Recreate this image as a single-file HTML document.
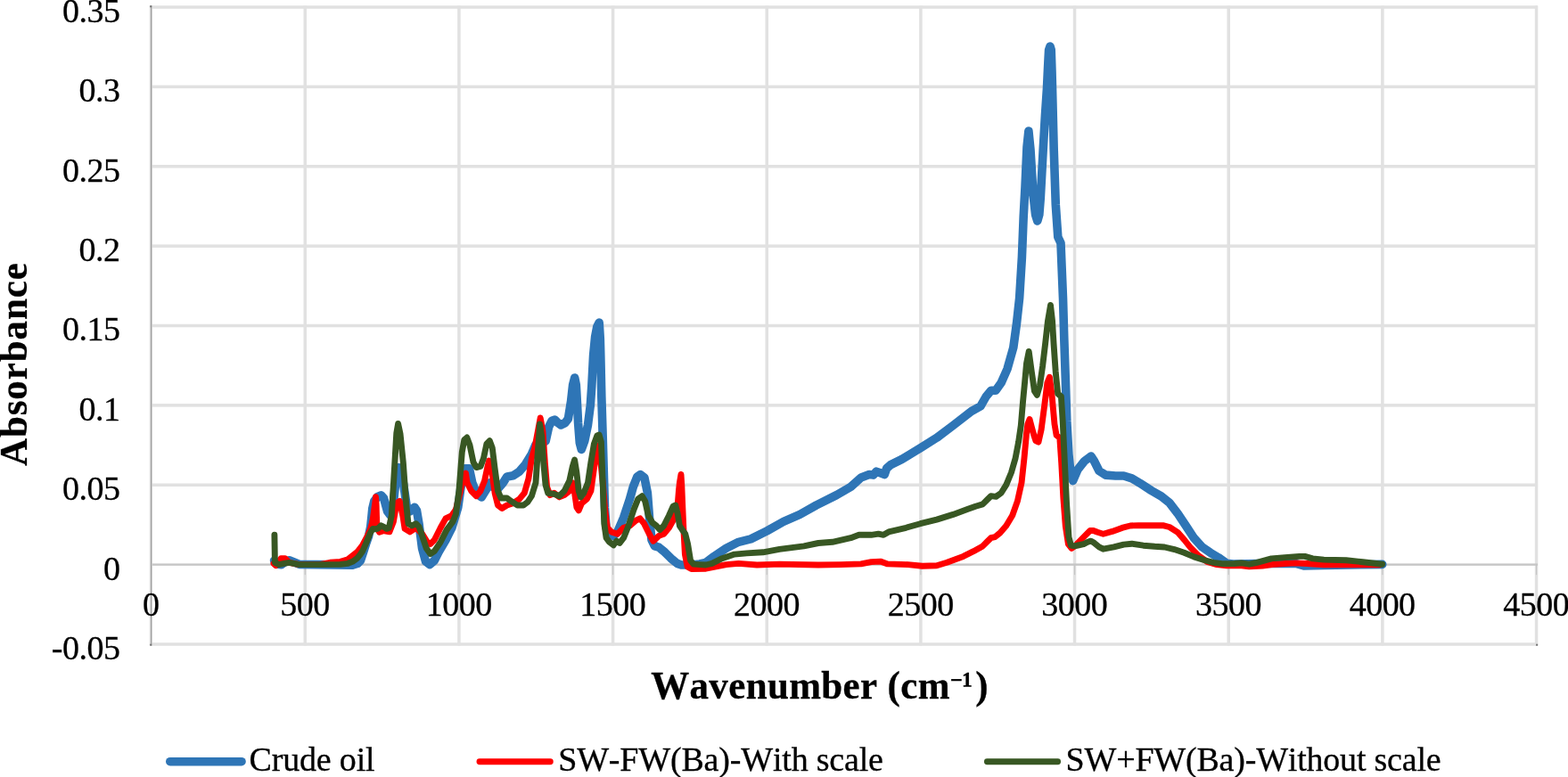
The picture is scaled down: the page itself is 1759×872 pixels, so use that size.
<!DOCTYPE html>
<html lang="en"><head><meta charset="utf-8"><title>FTIR absorbance spectra</title>
<style>
html,body{margin:0;padding:0;background:#fff;}
body{width:1759px;height:872px;overflow:hidden;}
svg{display:block;}
text{font-kerning:none;stroke:#000;stroke-width:0.3px;font-family:"Liberation Serif","Times New Roman",serif;fill:#000;}
.tick{font-size:38px;}
.ttl{font-size:43px;font-weight:bold;}
.leg{font-size:38px;}
.c{fill:none;stroke-linejoin:round;stroke-linecap:round;}
</style></head><body>
<svg width="1759" height="872" viewBox="0 0 1759 872">
<rect width="1759" height="872" fill="#fff"/>

<g fill="#e1e1e1">
<rect x="169.60" y="721.24" width="1555.44" height="3.5"/>
<rect x="169.60" y="542.50" width="1555.44" height="3.5"/>
<rect x="169.60" y="453.13" width="1555.44" height="3.5"/>
<rect x="169.60" y="363.76" width="1555.44" height="3.5"/>
<rect x="169.60" y="274.39" width="1555.44" height="3.5"/>
<rect x="169.60" y="185.02" width="1555.44" height="3.5"/>
<rect x="169.60" y="95.65" width="1555.44" height="3.5"/>
<rect x="169.60" y="6.28" width="1555.44" height="3.5"/>
<rect x="340.51" y="6.53" width="3.5" height="717.96"/>
<rect x="513.17" y="6.53" width="3.5" height="717.96"/>
<rect x="685.83" y="6.53" width="3.5" height="717.96"/>
<rect x="858.49" y="6.53" width="3.5" height="717.96"/>
<rect x="1031.15" y="6.53" width="3.5" height="717.96"/>
<rect x="1203.81" y="6.53" width="3.5" height="717.96"/>
<rect x="1376.47" y="6.53" width="3.5" height="717.96"/>
<rect x="1549.13" y="6.53" width="3.5" height="717.96"/>
<rect x="1721.79" y="6.53" width="3.5" height="717.96"/>
</g>
<rect x="169.60" y="632.42" width="1555.44" height="2.4" fill="#c6c6c6"/>
<rect x="169.00" y="633.62" width="1.2" height="11.5" fill="#c6c6c6"/>
<rect x="341.66" y="633.62" width="1.2" height="11.5" fill="#c6c6c6"/>
<rect x="514.32" y="633.62" width="1.2" height="11.5" fill="#c6c6c6"/>
<rect x="686.98" y="633.62" width="1.2" height="11.5" fill="#c6c6c6"/>
<rect x="859.64" y="633.62" width="1.2" height="11.5" fill="#c6c6c6"/>
<rect x="1032.30" y="633.62" width="1.2" height="11.5" fill="#c6c6c6"/>
<rect x="1204.96" y="633.62" width="1.2" height="11.5" fill="#c6c6c6"/>
<rect x="1377.62" y="633.62" width="1.2" height="11.5" fill="#c6c6c6"/>
<rect x="1550.28" y="633.62" width="1.2" height="11.5" fill="#c6c6c6"/>
<rect x="1722.94" y="633.62" width="1.2" height="11.5" fill="#c6c6c6"/>
<rect x="167.30" y="6.43" width="3.6" height="717.96" fill="#ededed"/>
<rect x="168.80" y="6.43" width="1.6" height="717.96" fill="#a0a0a0"/>
<rect x="168.20" y="6.23" width="2" height="2" fill="#707070"/><rect x="168.20" y="722.69" width="2" height="2" fill="#707070"/><rect x="1723.14" y="722.69" width="2" height="2" fill="#707070"/>
<path class="c" stroke="#2e75b6" stroke-width="9.6" d="M307.6,629.0 L310.0,633.0 L315.7,633.8 L320.0,630.5 L324.4,628.8 L330.0,631.0 L335.9,633.4 L395.5,634.1 L401.0,632.5 L404.5,629.0 L407.5,620.0 L410.5,610.5 L413.5,602.0 L415.7,591.3 L416.8,581.0 L417.8,570.7 L419.8,562.4 L423.4,557.7 L427.5,555.8 L430.5,559.0 L434.6,573.9 L438.0,578.5 L441.4,564.7 L444.9,530.3 L447.2,524.6 L450.6,530.3 L454.1,553.3 L456.4,569.3 L459.8,573.9 L465.0,569.3 L467.5,573.0 L470.0,587.7 L473.5,615.2 L477.5,630.0 L482.0,633.6 L487.3,629.0 L491.9,619.8 L500.0,606.0 L506.9,592.3 L513.8,569.3 L518.4,537.2 L521.8,525.7 L526.4,525.7 L529.8,541.8 L534.4,553.3 L540.2,557.9 L545.9,548.7 L549.3,541.8 L552.8,546.4 L558.5,548.7 L564.3,541.8 L568.8,534.9 L575.7,533.8 L582.6,529.2 L589.5,521.1 L596.4,509.7 L601.0,499.0 L612.1,495.2 L615.6,479.2 L619.0,472.3 L622.5,471.1 L625.9,474.6 L629.3,476.9 L633.9,474.6 L637.4,470.0 L640.6,450.0 L642.6,432.0 L644.7,424.0 L646.3,432.0 L647.3,450.0 L648.6,475.0 L650.3,497.0 L652.3,504.4 L655.7,495.2 L659.5,476.9 L662.3,455.0 L663.8,433.3 L665.6,398.8 L667.6,378.2 L669.8,366.7 L672.2,362.0 L673.3,380.0 L673.8,398.8 L674.8,444.7 L676.2,490.6 L677.3,530.0 L678.5,570.0 L680.0,592.0 L684.0,600.0 L688.2,601.4 L692.7,596.9 L699.6,580.8 L706.5,560.1 L710.3,546.4 L714.9,534.9 L718.4,532.6 L722.9,536.0 L726.4,553.3 L728.7,583.1 L731.0,606.0 L734.4,612.9 L739.0,614.1 L745.9,619.8 L752.8,626.7 L759.7,632.4 L764.3,634.0 L775.0,634.0 L785.0,633.0 L791.8,631.3 L801.0,624.4 L814.7,615.2 L828.5,608.3 L842.3,604.9 L860.6,595.7 L879.0,585.4 L897.3,577.4 L915.7,567.0 L938.4,555.6 L954.4,546.4 L965.9,536.0 L975.1,532.6 L979.7,533.1 L983.1,529.2 L987.7,530.8 L992.3,532.6 L994.6,525.7 L999.2,521.6 L1011.8,515.4 L1032.4,502.8 L1050.8,491.3 L1069.2,477.5 L1089.8,461.5 L1100.0,455.9 L1106.2,445.0 L1111.8,438.2 L1117.0,438.2 L1123.2,429.5 L1130.0,414.1 L1136.8,390.0 L1140.5,363.0 L1143.6,334.8 L1146.4,288.9 L1148.2,243.0 L1150.0,210.0 L1152.0,165.0 L1153.9,147.0 L1156.0,168.0 L1159.0,218.0 L1161.6,241.0 L1163.8,248.0 L1165.8,241.0 L1167.3,222.0 L1170.2,167.7 L1172.4,130.0 L1174.5,98.8 L1175.6,75.0 L1176.6,56.0 L1178.0,52.0 L1179.2,56.0 L1180.0,80.0 L1180.5,98.8 L1182.2,167.7 L1184.3,230.0 L1186.8,265.9 L1190.0,272.8 L1191.1,300.3 L1192.5,334.8 L1193.8,380.7 L1195.3,425.0 L1196.8,472.9 L1198.9,510.0 L1201.3,533.5 L1203.6,539.6 L1209.2,526.7 L1216.5,517.5 L1223.9,512.0 L1227.5,517.5 L1233.0,528.5 L1240.4,533.1 L1251.4,534.0 L1260.6,534.0 L1269.7,536.8 L1278.9,542.3 L1291.7,550.6 L1302.8,557.0 L1311.9,564.3 L1321.1,576.2 L1330.3,590.0 L1339.4,603.8 L1348.6,613.9 L1357.8,620.3 L1367.0,625.8 L1376.1,632.2 L1383.5,633.1 L1400.0,632.8 L1410.0,632.5 L1453.8,632.5 L1462.6,635.0 L1485.1,634.4 L1550.7,633.4"/>
<path class="c" stroke="#ff0000" stroke-width="6.9" d="M307.0,632.4 L309.5,634.7 L315.2,626.7 L319.8,626.7 L324.4,631.3 L335.9,633.6 L358.8,633.6 L370.3,631.3 L381.8,630.4 L390.3,627.8 L400.7,619.5 L406.9,611.5 L412.0,602.0 L415.5,594.0 L417.3,587.0 L418.5,581.0 L420.6,565.5 L421.5,557.8 L422.1,565.5 L422.7,586.2 L423.8,594.0 L425.5,597.2 L430.0,595.7 L436.9,596.9 L441.4,585.4 L444.9,564.7 L448.3,562.4 L451.8,578.5 L454.1,593.4 L459.8,596.9 L466.7,592.3 L473.6,599.2 L479.3,608.3 L482.7,610.6 L487.3,606.0 L494.2,592.3 L500.0,581.9 L506.8,578.5 L511.5,571.6 L516.0,553.3 L519.5,537.2 L522.5,531.0 L524.1,541.8 L528.7,551.0 L534.4,556.7 L539.0,551.0 L543.6,539.5 L547.0,523.4 L548.6,517.0 L551.6,528.0 L555.1,553.3 L558.5,567.0 L563.1,570.5 L568.8,567.0 L575.7,564.7 L582.6,560.1 L588.3,553.3 L592.9,537.2 L596.4,514.2 L599.8,502.8 L603.3,484.4 L606.2,469.0 L609.0,484.4 L611.3,518.8 L613.6,546.4 L617.0,555.6 L621.6,553.3 L627.4,557.9 L633.1,555.6 L638.8,551.0 L642.3,541.8 L644.6,553.3 L646.9,569.3 L649.2,572.8 L652.6,564.7 L658.3,560.1 L662.9,551.0 L666.4,525.7 L669.8,502.8 L671.5,500.0 L674.0,520.0 L676.5,545.0 L678.5,570.0 L681.3,592.3 L685.9,596.9 L692.7,599.2 L699.6,592.3 L706.5,590.0 L713.4,584.2 L718.0,581.9 L722.6,587.7 L728.3,599.2 L732.9,607.2 L739.0,601.4 L744.7,599.2 L750.5,592.3 L755.1,584.0 L758.5,574.0 L760.3,565.0 L761.5,550.0 L762.5,541.0 L764.0,532.4 L764.8,545.0 L765.6,565.0 L766.9,594.6 L768.4,622.1 L771.1,635.9 L775.7,638.6 L791.8,638.2 L803.3,635.9 L814.7,633.6 L828.5,632.4 L849.2,634.0 L874.4,633.1 L918.0,634.0 L942.9,633.6 L965.9,632.9 L977.4,630.6 L987.7,630.1 L995.7,632.9 L1018.7,633.6 L1034.7,635.2 L1050.8,634.7 L1062.3,631.3 L1080.6,624.4 L1092.1,618.7 L1102.4,612.9 L1107.0,608.3 L1111.6,603.7 L1116.2,602.6 L1121.9,598.0 L1128.8,590.0 L1135.7,578.5 L1141.4,562.4 L1146.0,541.8 L1149.0,514.2 L1151.3,489.0 L1152.9,476.0 L1155.0,470.5 L1157.5,479.8 L1160.0,489.0 L1161.9,494.6 L1165.0,496.1 L1168.1,482.2 L1171.8,454.3 L1174.9,429.5 L1177.4,423.3 L1179.9,441.9 L1183.0,476.0 L1185.1,488.3 L1188.8,491.4 L1190.7,519.3 L1192.9,559.6 L1195.3,590.5 L1198.4,610.6 L1202.1,615.3 L1206.8,612.2 L1209.2,609.3 L1216.5,601.9 L1222.9,595.5 L1226.6,595.5 L1231.2,597.3 L1237.6,599.2 L1247.7,596.4 L1258.7,592.4 L1267.9,590.0 L1277.1,589.6 L1291.7,589.8 L1305.5,589.8 L1311.9,591.5 L1321.1,597.3 L1328.4,605.6 L1335.8,614.8 L1344.9,623.9 L1354.1,630.4 L1365.1,633.6 L1376.1,634.7 L1390.8,634.6 L1401.3,635.8 L1416.3,635.0 L1430.0,633.2 L1452.6,631.9 L1466.3,632.5 L1485.1,633.8 L1510.1,633.8 L1547.6,633.8"/>
<path class="c" stroke="#385723" stroke-width="6.9" d="M307.9,600.3 L308.4,631.3 L313.0,633.6 L318.7,632.4 L324.4,631.3 L335.9,633.6 L358.8,633.6 L381.8,633.4 L390.3,632.3 L396.0,630.0 L400.7,626.4 L404.0,622.5 L406.9,618.2 L411.0,608.9 L415.1,598.6 L418.2,593.4 L421.3,593.9 L424.4,592.9 L427.5,589.8 L430.6,591.3 L433.7,593.4 L436.3,592.5 L439.3,578.5 L442.2,530.3 L444.8,486.0 L446.6,475.5 L449.0,486.7 L452.3,518.8 L455.6,564.7 L458.0,587.7 L462.1,590.0 L466.7,587.7 L470.1,591.1 L473.6,601.4 L478.2,615.2 L482.7,621.6 L487.3,618.7 L494.2,608.3 L501.1,594.6 L508.0,585.4 L511.4,577.0 L514.9,551.0 L518.3,507.4 L520.8,493.6 L523.8,491.0 L527.0,499.5 L531.0,518.8 L534.4,524.6 L539.0,523.4 L542.5,514.2 L545.9,498.2 L549.3,494.7 L552.3,502.8 L555.1,525.7 L558.5,551.0 L562.0,559.0 L568.8,559.0 L573.4,562.4 L580.3,567.0 L587.2,567.0 L591.8,563.6 L596.4,556.7 L601.0,541.8 L603.3,507.4 L605.6,476.0 L607.8,490.0 L609.7,518.8 L612.0,544.1 L614.7,553.3 L621.6,554.4 L627.4,556.7 L633.1,551.0 L638.8,539.5 L642.3,523.4 L644.6,516.0 L646.9,530.3 L649.2,551.0 L651.4,557.9 L654.9,553.3 L659.5,541.8 L662.9,518.8 L666.4,498.2 L669.8,489.0 L672.1,488.0 L674.4,495.9 L676.2,541.8 L677.8,587.7 L680.1,603.7 L683.6,608.3 L688.2,611.8 L691.6,607.2 L695.0,609.5 L699.6,603.7 L704.2,592.3 L711.1,571.6 L715.7,560.1 L720.3,556.7 L723.7,562.4 L727.2,578.5 L731.8,586.5 L736.3,590.0 L740.2,594.6 L744.7,590.0 L750.5,578.5 L755.1,568.2 L757.8,567.0 L760.1,576.2 L762.4,590.0 L765.4,594.6 L768.8,599.2 L771.6,610.6 L774.6,629.0 L778.0,633.1 L784.9,633.6 L791.8,634.0 L798.7,632.4 L810.1,626.7 L823.9,622.1 L837.7,620.9 L856.0,619.8 L874.4,616.4 L901.9,612.9 L918.0,609.5 L933.8,608.3 L954.4,603.7 L963.6,600.3 L977.4,600.3 L985.4,599.2 L991.1,600.3 L996.9,596.9 L1016.4,592.3 L1032.4,587.7 L1050.8,583.1 L1069.2,577.4 L1085.2,571.6 L1094.4,568.2 L1102.4,565.9 L1107.0,561.3 L1111.6,556.7 L1117.3,557.4 L1123.1,553.3 L1128.8,544.1 L1134.5,530.3 L1139.1,514.2 L1142.6,495.9 L1145.3,477.5 L1147.6,450.0 L1149.5,430.0 L1151.5,408.0 L1154.2,394.5 L1157.3,417.1 L1160.4,438.8 L1163.4,443.4 L1166.5,432.6 L1169.6,411.0 L1172.7,385.0 L1175.5,360.0 L1178.5,342.5 L1180.5,360.0 L1182.0,385.0 L1184.2,417.1 L1186.7,441.9 L1190.4,445.0 L1192.2,472.9 L1194.4,519.3 L1196.6,565.7 L1199.0,602.9 L1201.5,612.2 L1205.2,612.8 L1209.2,612.0 L1215.6,610.7 L1220.2,608.3 L1223.9,607.1 L1227.5,609.3 L1233.0,613.9 L1237.6,616.2 L1249.5,613.9 L1260.6,611.1 L1269.7,610.2 L1282.6,612.2 L1295.4,613.3 L1306.4,614.0 L1317.4,616.6 L1328.4,620.3 L1339.4,624.9 L1350.5,628.5 L1361.5,631.3 L1372.5,632.8 L1385.0,632.5 L1392.5,631.9 L1401.3,633.2 L1410.0,631.3 L1426.3,626.9 L1441.3,625.6 L1457.6,624.4 L1463.8,624.4 L1472.6,626.9 L1485.1,628.1 L1510.1,628.8 L1528.9,630.7 L1550.7,633.2"/>
<text class="tick" transform="translate(134.90,739.89) scale(1,1.02)" text-anchor="end" textLength="77.18" lengthAdjust="spacing">-0.05</text>
<text class="tick" transform="translate(134.90,650.52) scale(1,1.02)" text-anchor="end">0</text>
<text class="tick" transform="translate(134.90,561.15) scale(1,1.02)" text-anchor="end" textLength="64.84" lengthAdjust="spacing">0.05</text>
<text class="tick" transform="translate(134.90,471.78) scale(1,1.02)" text-anchor="end" textLength="46.31" lengthAdjust="spacing">0.1</text>
<text class="tick" transform="translate(134.90,382.41) scale(1,1.02)" text-anchor="end" textLength="64.84" lengthAdjust="spacing">0.15</text>
<text class="tick" transform="translate(134.90,293.04) scale(1,1.02)" text-anchor="end" textLength="46.31" lengthAdjust="spacing">0.2</text>
<text class="tick" transform="translate(134.90,203.67) scale(1,1.02)" text-anchor="end" textLength="64.84" lengthAdjust="spacing">0.25</text>
<text class="tick" transform="translate(134.90,114.30) scale(1,1.02)" text-anchor="end" textLength="46.31" lengthAdjust="spacing">0.3</text>
<text class="tick" transform="translate(134.90,24.93) scale(1,1.02)" text-anchor="end" textLength="64.84" lengthAdjust="spacing">0.35</text>
<text class="tick" transform="translate(169.60,690.50) scale(1,1.02)" text-anchor="middle">0</text>
<text class="tick" transform="translate(342.26,690.50) scale(1,1.02)" text-anchor="middle" textLength="55.86" lengthAdjust="spacing">500</text>
<text class="tick" transform="translate(514.92,690.50) scale(1,1.02)" text-anchor="middle" textLength="74.48" lengthAdjust="spacing">1000</text>
<text class="tick" transform="translate(687.58,690.50) scale(1,1.02)" text-anchor="middle" textLength="74.48" lengthAdjust="spacing">1500</text>
<text class="tick" transform="translate(860.24,690.50) scale(1,1.02)" text-anchor="middle" textLength="74.48" lengthAdjust="spacing">2000</text>
<text class="tick" transform="translate(1032.90,690.50) scale(1,1.02)" text-anchor="middle" textLength="74.48" lengthAdjust="spacing">2500</text>
<text class="tick" transform="translate(1205.56,690.50) scale(1,1.02)" text-anchor="middle" textLength="74.48" lengthAdjust="spacing">3000</text>
<text class="tick" transform="translate(1378.22,690.50) scale(1,1.02)" text-anchor="middle" textLength="74.48" lengthAdjust="spacing">3500</text>
<text class="tick" transform="translate(1550.88,690.50) scale(1,1.02)" text-anchor="middle" textLength="74.48" lengthAdjust="spacing">4000</text>
<text class="tick" transform="translate(1723.54,690.50) scale(1,1.02)" text-anchor="middle" textLength="74.48" lengthAdjust="spacing">4500</text>
<text class="ttl" transform="translate(0,784.3) scale(1,1.025)"><tspan x="730.2" y="0" textLength="335.3" lengthAdjust="spacing">Wavenumber (cm</tspan><tspan x="1065.3" y="-6.25" font-size="28.9" font-family="DejaVu Serif, serif">⁻</tspan><tspan x="1079.5" y="-3.45" font-size="38.5">¹</tspan><tspan x="1094.2" y="0">)</tspan></text>
<text class="ttl" transform="translate(29.90,523.00) rotate(-90) scale(1,1.025)" text-anchor="start" textLength="227.8" lengthAdjust="spacing">Absorbance</text>
<line class="c" x1="190.8" y1="854.7" x2="271.0" y2="854.7" stroke="#2e75b6" stroke-width="9.6"/>
<text class="leg" transform="translate(279.60,864.60) scale(1,1.02)" text-anchor="start" textLength="141.0" lengthAdjust="spacing">Crude oil</text>
<line class="c" x1="538.0" y1="854.7" x2="617.3" y2="854.7" stroke="#ff0000" stroke-width="6.9"/>
<text class="leg" transform="translate(626.20,864.60) scale(1,1.02)" text-anchor="start" textLength="364.8" lengthAdjust="spacing">SW-FW(Ba)-With scale</text>
<line class="c" x1="1107.4" y1="854.7" x2="1186.6" y2="854.7" stroke="#385723" stroke-width="6.9"/>
<text class="leg" transform="translate(1195.60,864.60) scale(1,1.02)" text-anchor="start" textLength="421.1" lengthAdjust="spacing">SW+FW(Ba)-Without scale</text>
</svg></body></html>
